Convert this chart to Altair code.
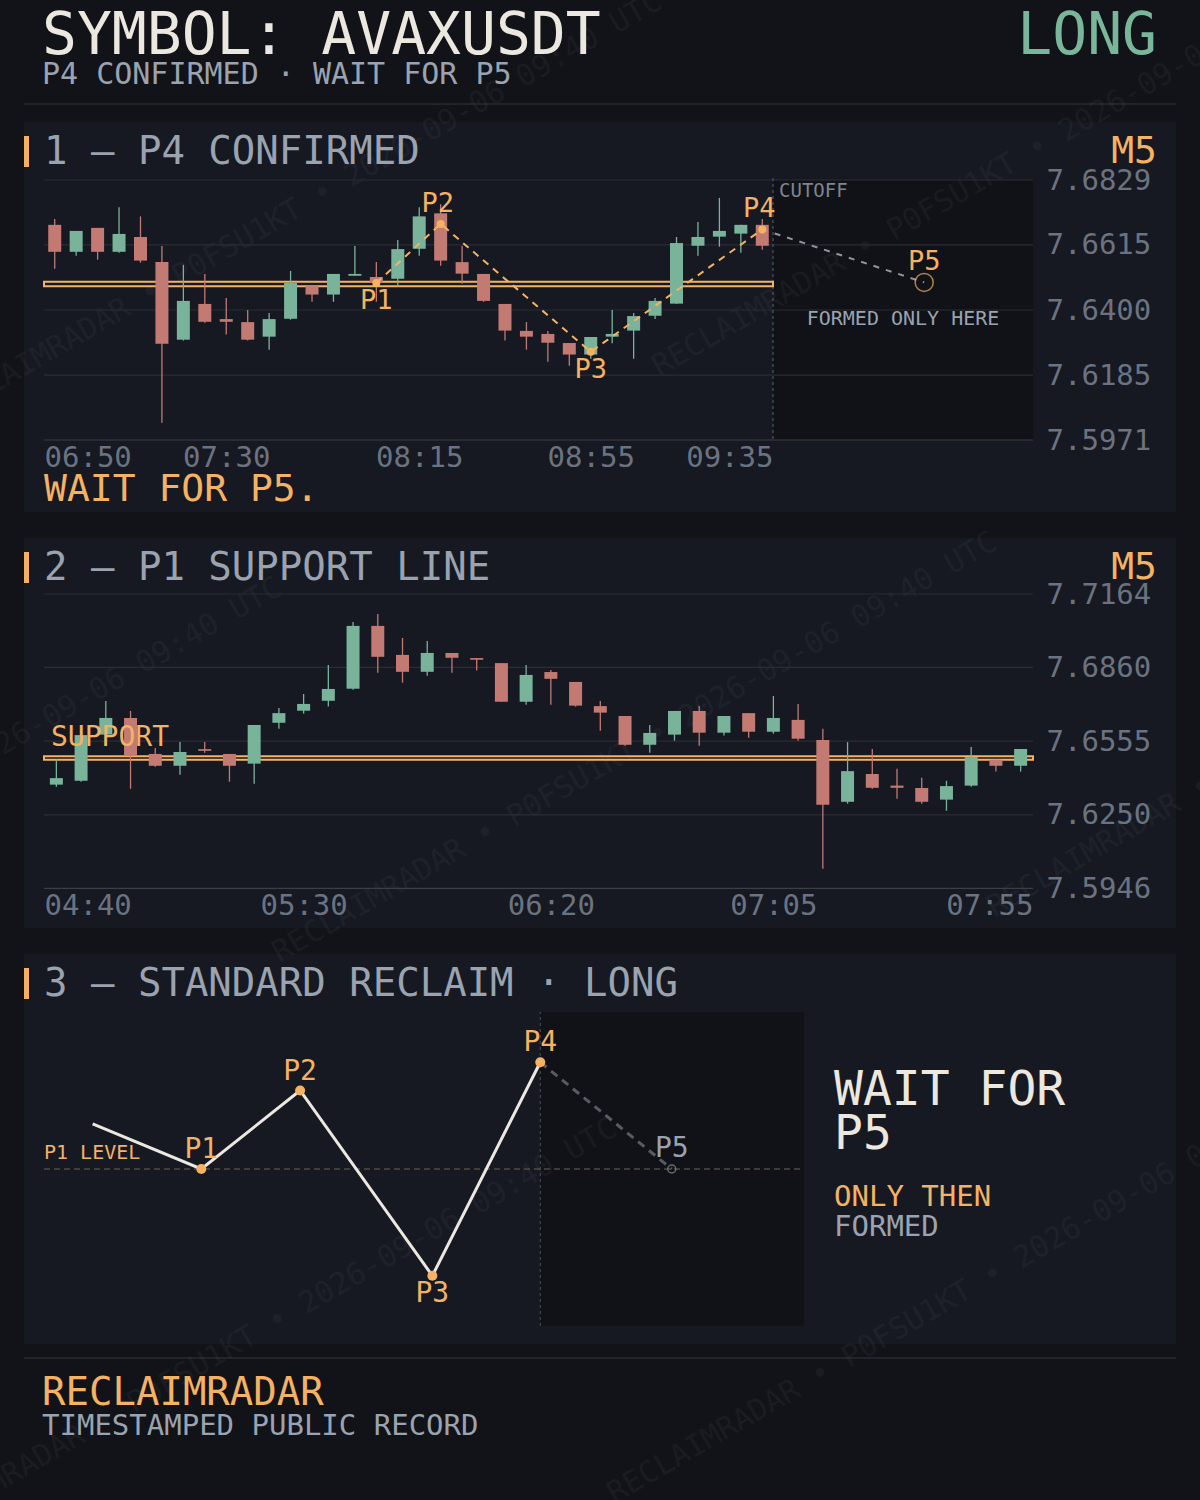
import altair as alt
import pandas as pd

FONT = "DejaVu Sans Mono"
BG = "#111318"
CARD = "#161922"
SHADE = "#101217"
GRID = "#2a2d34"
BASE = "#3b3f47"
GREEN = "#78b39a"
RED = "#c27a73"
ORANGE = "#f5b262"
CREAM = "#ece7df"
GREY = "#9aa3af"
AXIS = "#6b7380"

# ---------------- data ----------------
SYMBOL = "AVAXUSDT"
SIDE = "LONG"
TF = "M5"

# panel 1 : P4 confirmed (5-minute candles)
P1_OPEN = [7.6681, 7.6592, 7.6671, 7.6592, 7.6641, 7.6558, 7.6302, 7.6420, 7.6370, 7.6360,
           7.6312, 7.6371, 7.6479, 7.6451, 7.6513, 7.6509, 7.6503, 7.6602, 7.6719, 7.6558,
           7.6519, 7.6420, 7.6331, 7.6321, 7.6291, 7.6253, 7.6312, 7.6332, 7.6381, 7.6421,
           7.6612, 7.6642, 7.6652, 7.6681]
P1_HIGH = [7.6700, 7.6661, 7.6671, 7.6739, 7.6709, 7.6611, 7.6549, 7.6519, 7.6440, 7.6400,
           7.6390, 7.6529, 7.6479, 7.6519, 7.6611, 7.6558, 7.6631, 7.6739, 7.6749, 7.6611,
           7.6519, 7.6420, 7.6360, 7.6331, 7.6291, 7.6311, 7.6400, 7.6390, 7.6440, 7.6641,
           7.6690, 7.6770, 7.6681, 7.6700]
P1_LOW = [7.6536, 7.6579, 7.6566, 7.6589, 7.6556, 7.6028, 7.6299, 7.6358, 7.6319, 7.6299,
          7.6269, 7.6368, 7.6427, 7.6427, 7.6513, 7.6427, 7.6477, 7.6579, 7.6546, 7.6487,
          7.6427, 7.6299, 7.6269, 7.6229, 7.6216, 7.6239, 7.6290, 7.6239, 7.6370, 7.6420,
          7.6579, 7.6609, 7.6589, 7.6599]
P1_CLOSE = [7.6592, 7.6661, 7.6592, 7.6651, 7.6563, 7.6289, 7.6430, 7.6361, 7.6361, 7.6302,
            7.6370, 7.6489, 7.6451, 7.6519, 7.6519, 7.6489, 7.6601, 7.6709, 7.6563, 7.6520,
            7.6430, 7.6332, 7.6312, 7.6292, 7.6253, 7.6311, 7.6321, 7.6380, 7.6430, 7.6621,
            7.6641, 7.6661, 7.6681, 7.6612]
P1_YTICKS = [7.5971, 7.6185, 7.6400, 7.6615, 7.6829]
P1_TICK_IDX = [0, 8, 17, 25, 33]
P1_TICK_LBL = ["06:50", "07:30", "08:15", "08:55", "09:35"]
P1_FUTURE_END = 45.63          # right edge of the projection area, in candle units

PIV_NAME = ["P1", "P2", "P3", "P4"]
PIV_IDX = [15, 18, 25, 33]
PIV_PRICE = [7.6489, 7.6684, 7.6262, 7.6666]
PIV_SIDE = ["below", "above", "below", "above"]
P5_IDX = 40.55
P5_PRICE = 7.6491

# panel 2 : P1 support line
P2_OPEN = [7.6375, 7.6391, 7.6582, 7.6651, 7.6502, 7.6453, 7.6522, 7.6502, 7.6462, 7.6631,
           7.6681, 7.6722, 7.6772, 7.7032, 7.6912, 7.6842, 7.6920, 7.6899, 7.6878, 7.6718,
           7.6841, 7.6800, 7.6700, 7.6659, 7.6540, 7.6582, 7.6680, 7.6590, 7.6671, 7.6594,
           7.6643, 7.6560, 7.6304, 7.6419, 7.6371, 7.6361, 7.6313, 7.6371, 7.6478, 7.6453]
P2_HIGH = [7.6480, 7.6580, 7.6721, 7.6680, 7.6527, 7.6551, 7.6551, 7.6502, 7.6622, 7.6692,
           7.6750, 7.6870, 7.7048, 7.7081, 7.6982, 7.6970, 7.6920, 7.6899, 7.6878, 7.6870,
           7.6849, 7.6800, 7.6721, 7.6659, 7.6622, 7.6680, 7.6700, 7.6659, 7.6671, 7.6742,
           7.6709, 7.6606, 7.6551, 7.6522, 7.6441, 7.6404, 7.6391, 7.6531, 7.6478, 7.6522]
P2_LOW = [7.6366, 7.6387, 7.6582, 7.6358, 7.6449, 7.6416, 7.6507, 7.6387, 7.6379, 7.6606,
          7.6669, 7.6698, 7.6768, 7.6838, 7.6797, 7.6826, 7.6838, 7.6847, 7.6718, 7.6706,
          7.6706, 7.6698, 7.6598, 7.6536, 7.6507, 7.6557, 7.6536, 7.6578, 7.6569, 7.6586,
          7.6557, 7.6027, 7.6296, 7.6358, 7.6317, 7.6296, 7.6267, 7.6366, 7.6429, 7.6429]
P2_CLOSE = [7.6402, 7.6580, 7.6651, 7.6498, 7.6453, 7.6510, 7.6515, 7.6453, 7.6622, 7.6671,
            7.6709, 7.6771, 7.7032, 7.6904, 7.6842, 7.6920, 7.6900, 7.6892, 7.6718, 7.6829,
            7.6813, 7.6702, 7.6673, 7.6540, 7.6589, 7.6680, 7.6590, 7.6659, 7.6594, 7.6651,
            7.6565, 7.6292, 7.6431, 7.6362, 7.6362, 7.6304, 7.6369, 7.6489, 7.6453, 7.6522]
P2_YTICKS = [7.5946, 7.6250, 7.6555, 7.6860, 7.7164]
P2_TICK_IDX = [0, 10, 20, 29, 39]
P2_TICK_LBL = ["04:40", "05:30", "06:20", "07:05", "07:55"]

SUPPORT_LO = 7.6478
SUPPORT_HI = 7.6493

# panel 3 : schematic (abstract 0-100 units)
S_NAME = ["", "P1", "P2", "P3", "P4"]
S_X = [6.4, 20.7, 33.7, 51.1, 65.3]
S_Y = [64.4, 50.0, 75.0, 16.0, 84.0]
S_SIDE = ["", "above", "above", "below", "above"]
S_P5 = (82.6, 50.0)
S_LEVEL = 50.0

WATERMARK = "RECLAIMRADAR \u2022 P0FSU1KT \u2022 2026-09-06 09:40 UTC"

# ---------------- helpers ----------------
one = pd.DataFrame({"k": [0]})


def sc(dom, rng):
    return alt.Scale(domain=dom, range=rng, nice=False, zero=False, padding=0)


def T(s, x, y, size, color, align="left"):
    return alt.Chart(one).mark_text(
        text=s, align=align, baseline="middle", font=FONT, fontSize=size, color=color
    ).encode(x=alt.value(x), y=alt.value(y))


def R(x1, x2, y1, y2, color):
    return alt.Chart(one).mark_rect(color=color).encode(
        x=alt.value(x1), x2=alt.value(x2), y=alt.value(y1), y2=alt.value(y2))


def HR(x1, x2, y, color, w=1.5):
    return alt.Chart(one).mark_rule(color=color, strokeWidth=w).encode(
        x=alt.value(x1), x2=alt.value(x2), y=alt.value(y))


def time_axis(idx, labels, n, offset):
    vals = list(idx)
    vals[0] = -0.5
    vals[-1] = n - 0.5
    expr = ""
    for v, l in zip(vals, labels):
        expr += f"datum.value == {v} ? '{l}' : "
    expr += "''"
    return alt.Axis(orient="bottom", offset=offset, values=vals, labelExpr=expr,
                    labelFlush=True, labelOverlap=False, domain=False, ticks=False,
                    tickSize=0, grid=False, title=None, labelFont=FONT, labelFontSize=29,
                    labelColor=AXIS, labelPadding=3, zindex=2)


def price_axis(vals):
    return alt.Axis(orient="right", offset=-160, values=vals, format=".4f", domain=False,
                    ticks=False, tickSize=0, grid=False, title=None, labelFont=FONT,
                    labelFontSize=29, labelColor=AXIS, labelPadding=6, labelAlign="left",
                    labelBaseline="middle", labelOverlap=False, labelFlush=False, zindex=2)


COLOR = alt.condition("datum.close >= datum.open", alt.value(GREEN), alt.value(RED))


def candle_panel(o, h, l, c, xs, ys, xaxis, ticks, ylo):
    df = pd.DataFrame({"i": list(range(len(o))), "open": o, "high": h, "low": l, "close": c})
    gdf = pd.DataFrame({"v": ticks})
    grid = alt.Chart(gdf).mark_rule(strokeWidth=1.2).encode(
        y=alt.Y("v:Q", scale=ys, axis=price_axis(ticks)),
        x=alt.value(44), x2=alt.value(1033),
        color=alt.condition(f"datum.v == {min(ticks)}", alt.value(BASE), alt.value(GRID)))
    wick = alt.Chart(df).mark_rule(strokeWidth=1.3).encode(
        x=alt.X("i:Q", scale=xs, axis=xaxis),
        y=alt.Y("low:Q", scale=ys, axis=None), y2="high:Q", color=COLOR)
    body = alt.Chart(df).mark_bar(width=13).encode(
        x=alt.X("i:Q", scale=xs, axis=None),
        y=alt.Y("open:Q", scale=ys, axis=None), y2="close:Q", color=COLOR)
    sup = alt.Chart(pd.DataFrame({"a": [-0.5], "b": [ylo], "lo": [SUPPORT_LO], "hi": [SUPPORT_HI]})
                    ).mark_rect(fill=None, stroke=ORANGE, strokeWidth=2).encode(
        x=alt.X("a:Q", scale=xs, axis=None), x2="b:Q",
        y=alt.Y("lo:Q", scale=ys, axis=None), y2="hi:Q")
    return grid, wick, body, sup


layers = []

# ---------------- backgrounds ----------------
layers += [
    R(24, 1176, 122, 512, CARD),
    R(24, 1176, 538, 928, CARD),
    R(24, 1176, 954, 1344, CARD),
    HR(24, 1176, 104, "#272b33"),
    HR(24, 1176, 1358, "#272b33"),
]

P1XS = sc([-0.5, len(P1_OPEN) - 0.5], [44, 773])
P1YS = sc([P1_YTICKS[0], P1_YTICKS[-1]], [440, 180])
P2XS = sc([-0.5, len(P2_OPEN) - 0.5], [44, 1033])
P2YS = sc([P2_YTICKS[0], P2_YTICKS[-1]], [888.3, 594])
P3XS = sc([0, 100], [44, 804])
P3YS = sc([0, 100], [1326, 1012])

fut1 = alt.Chart(pd.DataFrame({"a": [len(P1_OPEN) - 0.5], "b": [P1_FUTURE_END]})).mark_rect(
    color=SHADE).encode(x=alt.X("a:Q", scale=P1XS, axis=None), x2="b:Q",
                        y=alt.value(180), y2=alt.value(440))
fut3 = alt.Chart(pd.DataFrame({"a": [S_X[-1]], "b": [100], "c": [0], "d": [100]})).mark_rect(
    color=SHADE).encode(x=alt.X("a:Q", scale=P3XS, axis=None), x2="b:Q",
                        y=alt.Y("c:Q", scale=P3YS, axis=None), y2="d:Q")
layers += [fut1, fut3]

# ---------------- watermark ----------------
wm = []
for r in range(0, 7):
    b = 380 + 367 * (r - 1)
    s0 = -60 - 380 * (r - 1)
    for k in range(-4, 5):
        x = s0 + 1095 * k
        y = b - 0.577 * x
        if x > 1200 or x + 740 < 0:
            continue
        if y < 0 or y - 430 > 1500:
            continue
        wm.append({"wx": x, "wy": y, "wt": WATERMARK})
wmc = alt.Chart(pd.DataFrame(wm)).mark_text(
    angle=330, align="left", baseline="middle", font=FONT, fontSize=30,
    color="#9aa3af", opacity=0.06).encode(
    x=alt.X("wx:Q", scale=sc([0, 1200], [0, 1200]), axis=None),
    y=alt.Y("wy:Q", scale=sc([0, 1500], [0, 1500]), axis=None),
    text="wt:N")
layers.append(wmc)

# ---------------- panel 1 ----------------
g1, w1, b1, s1 = candle_panel(P1_OPEN, P1_HIGH, P1_LOW, P1_CLOSE, P1XS, P1YS,
                              time_axis(P1_TICK_IDX, P1_TICK_LBL, len(P1_OPEN), -1060),
                              P1_YTICKS, len(P1_OPEN) - 0.5)
cut1 = alt.Chart(pd.DataFrame({"a": [len(P1_OPEN) - 0.5]})).mark_rule(
    color="#5a606a", strokeWidth=1, strokeDash=[3, 3]).encode(
    x=alt.X("a:Q", scale=P1XS, axis=None), y=alt.value(178), y2=alt.value(440))
layers += [g1, cut1, s1, w1, b1]

piv = pd.DataFrame({"i": PIV_IDX, "p": PIV_PRICE, "n": PIV_NAME, "side": PIV_SIDE})
proj = pd.DataFrame({"i": [PIV_IDX[-1], P5_IDX], "p": [PIV_PRICE[-1], P5_PRICE]})
p5 = pd.DataFrame({"i": [P5_IDX], "p": [P5_PRICE], "n": ["P5"]})
px1 = alt.X("i:Q", scale=P1XS, axis=None)
py1 = alt.Y("p:Q", scale=P1YS, axis=None)
layers += [
    alt.Chart(proj).mark_line(color="#8f96a1", strokeWidth=2, strokeDash=[6, 7]).encode(x=px1, y=py1),
    alt.Chart(piv).mark_line(color=ORANGE, strokeWidth=2, strokeDash=[7, 6]).encode(x=px1, y=py1),
    alt.Chart(piv).mark_circle(color=ORANGE, size=64, opacity=1).encode(x=px1, y=py1),
    alt.Chart(p5).mark_point(shape="circle", filled=False, color=ORANGE, size=324,
                             strokeWidth=1.5).encode(x=px1, y=py1),
    alt.Chart(piv).transform_filter("datum.side == 'below'").mark_text(
        font=FONT, fontSize=27, color=ORANGE, dy=18, baseline="middle").encode(
        x=px1, y=py1, text="n:N"),
    alt.Chart(piv).transform_filter("datum.side == 'above'").mark_text(
        font=FONT, fontSize=27, color=ORANGE, dy=-20, dx=-3, baseline="middle").encode(
        x=px1, y=py1, text="n:N"),
    alt.Chart(p5).mark_text(font=FONT, fontSize=27, color=ORANGE, dy=-20,
                            baseline="middle").encode(x=px1, y=py1, text="n:N"),
]

# ---------------- panel 2 ----------------
g2, w2, b2, s2 = candle_panel(P2_OPEN, P2_HIGH, P2_LOW, P2_CLOSE, P2XS, P2YS,
                              time_axis(P2_TICK_IDX, P2_TICK_LBL, len(P2_OPEN), -611.7),
                              P2_YTICKS, len(P2_OPEN) - 0.5)
sup_lbl = alt.Chart(pd.DataFrame({"a": [-0.5], "hi": [SUPPORT_HI], "t": ["SUPPORT"]})).mark_text(
    font=FONT, fontSize=28, color=ORANGE, align="left", baseline="middle", dx=7, dy=-18).encode(
    x=alt.X("a:Q", scale=P2XS, axis=None), y=alt.Y("hi:Q", scale=P2YS, axis=None), text="t:N")
layers += [g2, s2, w2, b2, sup_lbl]

# ---------------- panel 3 ----------------
sch = pd.DataFrame({"x": S_X, "y": S_Y, "n": S_NAME, "side": S_SIDE})
sx = alt.X("x:Q", scale=P3XS, axis=None)
sy = alt.Y("y:Q", scale=P3YS, axis=None)
lvl = pd.DataFrame({"x": [0], "x2": [100], "y": [S_LEVEL], "t": ["P1 LEVEL"]})
s_proj = pd.DataFrame({"x": [S_X[-1], S_P5[0]], "y": [S_Y[-1], S_P5[1]]})
s_p5 = pd.DataFrame({"x": [S_P5[0]], "y": [S_P5[1]], "n": ["P5"]})
cut3 = pd.DataFrame({"x": [S_X[-1]], "y": [0], "y2": [100]})
layers += [
    alt.Chart(cut3).mark_rule(color="#4b5059", strokeWidth=1, strokeDash=[3, 3]).encode(
        x=sx, y=sy, y2="y2:Q"),
    alt.Chart(lvl).mark_rule(color="#6f634f", strokeWidth=1.2, strokeDash=[6, 4]).encode(
        x=sx, x2="x2:Q", y=sy),
    alt.Chart(lvl).mark_text(font=FONT, fontSize=20, color=ORANGE, align="left",
                             baseline="middle", dy=-16).encode(x=sx, y=sy, text="t:N"),
    alt.Chart(s_proj).mark_line(color="#565c66", strokeWidth=3, strokeDash=[8, 6]).encode(x=sx, y=sy),
    alt.Chart(sch).mark_line(color=CREAM, strokeWidth=3).encode(x=sx, y=sy),
    alt.Chart(sch).transform_filter("datum.n != ''").mark_circle(
        color=ORANGE, size=100, opacity=1).encode(x=sx, y=sy),
    alt.Chart(s_p5).mark_point(shape="circle", filled=False, color="#8a919c", size=64,
                               strokeWidth=1.5).encode(x=sx, y=sy),
    alt.Chart(sch).transform_filter("datum.side == 'above'").mark_text(
        font=FONT, fontSize=28, color=ORANGE, dy=-19, baseline="middle").encode(
        x=sx, y=sy, text="n:N"),
    alt.Chart(sch).transform_filter("datum.side == 'below'").mark_text(
        font=FONT, fontSize=28, color=ORANGE, dy=18, baseline="middle").encode(
        x=sx, y=sy, text="n:N"),
    alt.Chart(s_p5).mark_text(font=FONT, fontSize=28, color=GREY, dy=-20,
                              baseline="middle").encode(x=sx, y=sy, text="n:N"),
]

# ---------------- texts ----------------
layers += [
    T(f"SYMBOL: {SYMBOL}", 42, 37, 58, CREAM),
    T(SIDE, 1157, 37, 58, "#7ab69a", align="right"),
    T("P4 CONFIRMED \u00b7 WAIT FOR P5", 42, 75, 30, GREY),
    # panel 1
    R(24, 29, 136, 167, ORANGE),
    T("1 \u2014 P4 CONFIRMED", 44, 152, 39, GREY),
    T(TF, 1157, 152, 38, ORANGE, align="right"),
    T("WAIT FOR P5.", 44, 490, 38, ORANGE),
    T("CUTOFF", 779, 191, 19, "#7d8591"),
    T("FORMED ONLY HERE", 903, 319, 20, GREY, align="center"),
    # panel 2
    R(24, 29, 552, 583, ORANGE),
    T("2 \u2014 P1 SUPPORT LINE", 44, 568, 39, GREY),
    T(TF, 1157, 568, 38, ORANGE, align="right"),
    # panel 3
    R(24, 29, 968, 999, ORANGE),
    T("3 \u2014 STANDARD RECLAIM \u00b7 LONG", 44, 984, 39, GREY),
    T("WAIT FOR", 834, 1091, 48, CREAM),
    T("P5", 834, 1135, 48, CREAM),
    T("ONLY THEN", 834, 1197, 29, ORANGE),
    T("FORMED", 834, 1227, 29, GREY),
    # footer
    T("RECLAIMRADAR", 42, 1393, 39, ORANGE),
    T("TIMESTAMPED PUBLIC RECORD", 42, 1426, 29, GREY),
]

chart = alt.layer(*layers).resolve_scale(
    x="independent", y="independent"
).properties(
    width=1200, height=1500, background=BG, padding=0,
    autosize=alt.AutoSizeParams(type="none")
).configure_view(stroke=None)

chart.save("out.html", embed_options={"renderer": "svg", "actions": False})

with open("out.html", "r", encoding="utf-8") as f:
    html = f.read()
html = html.replace("<head>", "<head><style>html,body{margin:0;padding:0;background:#111318;}</style>", 1)
with open("out.html", "w", encoding="utf-8") as f:
    f.write(html)
